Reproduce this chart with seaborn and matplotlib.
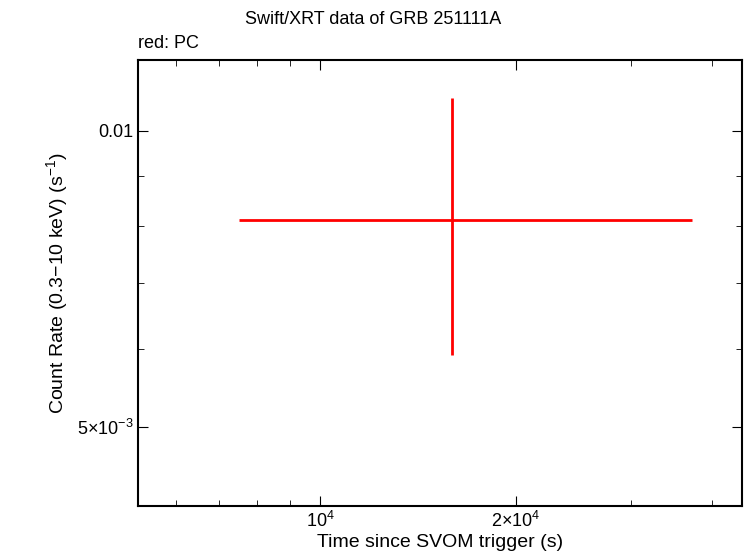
import matplotlib

matplotlib.use("Agg")
import matplotlib.pyplot as plt
import numpy as np
import pandas as pd
import seaborn as sns
from matplotlib.ticker import FixedLocator, FixedFormatter, NullFormatter

# data
time_s = [15950.0]
time_lo = [7509.0]
time_hi = [37270.0]
rate = [0.008118]
rate_lo = [0.005917]
rate_hi = [0.010804]

df = pd.DataFrame({"time": time_s, "rate": rate})

sns.set_style("ticks")
plt.rcParams["font.family"] = ["Liberation Sans", "DejaVu Sans"]
plt.rcParams["mathtext.fontset"] = "custom"
plt.rcParams["mathtext.rm"] = "Liberation Sans"
plt.rcParams["text.color"] = "black"
plt.rcParams["axes.labelcolor"] = "black"
plt.rcParams["xtick.color"] = "black"
plt.rcParams["ytick.color"] = "black"

fig = plt.figure(figsize=(7.46, 5.58), dpi=100)
ax = fig.add_axes([0.185, 0.0932, 0.8096, 0.7993])

xerr = [[t - lo for t, lo in zip(time_s, time_lo)], [hi - t for t, hi in zip(time_s, time_hi)]]
yerr = [[r - lo for r, lo in zip(rate, rate_lo)], [hi - r for r, hi in zip(rate, rate_hi)]]
ax.errorbar(df["time"], df["rate"], xerr=xerr, yerr=yerr, fmt="none",
            ecolor="red", elinewidth=2, capsize=0)

ax.set_xscale("log")
ax.set_yscale("log")
ax.set_xlim(5253, 44480)
ax.set_ylim(0.004154, 0.01181)

ax.xaxis.set_major_locator(FixedLocator([1e4, 2e4]))
ax.xaxis.set_major_formatter(FixedFormatter([r"$\mathrm{10^4}$", r"$\mathrm{2{\times}10^4}$"]))
ax.xaxis.set_minor_locator(FixedLocator([6000, 7000, 8000, 9000, 3e4, 4e4]))
ax.xaxis.set_minor_formatter(NullFormatter())
ax.yaxis.set_major_locator(FixedLocator([0.005, 0.01]))
ax.yaxis.set_major_formatter(FixedFormatter([r"$\mathrm{5{\times}10^{-3}}$", "0.01"]))
ax.yaxis.set_minor_locator(FixedLocator([0.006, 0.007, 0.008, 0.009]))
ax.yaxis.set_minor_formatter(NullFormatter())

ax.tick_params(which="both", direction="in", top=True, right=True, labelsize=13, color="black")
ax.tick_params(which="major", length=7)
ax.tick_params(which="minor", length=4)
for s in ax.spines.values():
    s.set_color("black")
    s.set_linewidth(1.5)

ax.set_xlabel("Time since SVOM trigger (s)", fontsize=14, labelpad=2)
ax.set_ylabel(r"Count Rate (0.3$-$10 keV) (s$^{\mathrm{-1}}$)", fontsize=14)
fig.text(0.5, 0.965, "Swift/XRT data of GRB 251111A", ha="center", va="center", fontsize=13)
fig.text(0.185, 0.922, "red: PC", ha="left", va="center", fontsize=13)

fig.savefig("out.png", dpi=100)
